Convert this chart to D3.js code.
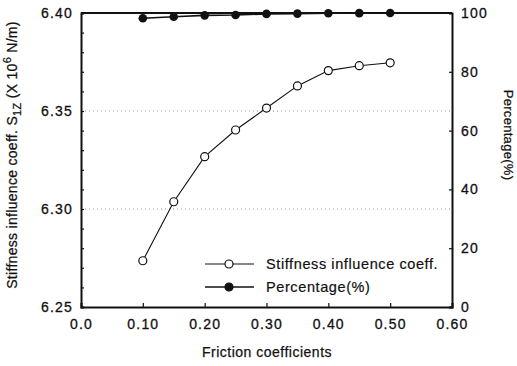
<!DOCTYPE html>
<html>
<head>
<meta charset="utf-8">
<script src="https://cdn.jsdelivr.net/npm/d3@7.9.0/dist/d3.min.js"></script>
<style>
  body { margin: 0; background: #fff; }
  svg text { font-family: "Liberation Sans", Arial, sans-serif; fill: #111; }
</style>
</head>
<body>
<svg id="chart" width="517" height="366"></svg>
<script>
// data
const friction = [0.10, 0.15, 0.20, 0.25, 0.30, 0.35, 0.40, 0.45, 0.50];
const stiffness = [6.2736, 6.3037, 6.3267, 6.3403, 6.3515, 6.3628, 6.3706, 6.3731, 6.3746];
const percentage = [98.2, 98.7, 99.2, 99.3, 99.7, 99.8, 99.9, 99.95, 100];
const xTicks = [0.0, 0.1, 0.2, 0.3, 0.4, 0.5, 0.6];
const yTicks = [6.25, 6.30, 6.35, 6.40];
const y2Ticks = [0, 20, 40, 60, 80, 100];
const gridValues = [6.30, 6.35];
const legendLabels = ['Stiffness influence coeff.', 'Percentage(%)'];

const svg = d3.select('#chart');
const plotL = 81, plotR = 452, plotT = 13, plotB = 307;

let x = d3.scaleLinear().domain([0, 0.6]).range([plotL, plotR]);
let y = d3.scaleLinear().domain([6.25, 6.40]).range([plotB, plotT]);
let y2 = d3.scaleLinear().domain([0, 100]).range([plotB, plotT]);

// dotted gridlines
svg.selectAll('line.grid')
  .data(gridValues)
  .join('line')
  .attr('class', 'grid')
  .attr('x1', plotL).attr('x2', plotR)
  .attr('y1', d => y(d)).attr('y2', d => y(d))
  .attr('stroke', '#777')
  .attr('stroke-width', 0.8)
  .attr('stroke-dasharray', '1,3');

// axes
let xAxis = svg.append('g')
  .attr('transform', `translate(0,${plotB})`)
  .call(d3.axisBottom(x).tickValues(xTicks).tickFormat((d, i) => i === 0 ? '0.0' : d3.format('.2f')(d)).tickSize(-4).tickPadding(12));
let yAxis = svg.append('g')
  .attr('transform', `translate(${plotL},0)`)
  .call(d3.axisLeft(y).tickValues(d3.range(6.25, 6.4001, 0.01)).tickFormat(d => {
    let r = Math.round(d * 100);
    return r % 5 === 0 ? d3.format('.2f')(d) : '';
  }).tickSize(-3).tickPadding(8));
let y2Axis = svg.append('g')
  .attr('transform', `translate(${plotR},0)`)
  .call(d3.axisRight(y2).tickValues(y2Ticks).tickSize(-3).tickPadding(9));

// top border
svg.append('line')
  .attr('x1', plotL).attr('x2', plotR)
  .attr('y1', plotT).attr('y2', plotT)
  .attr('stroke', '#111').attr('stroke-width', 2);

[xAxis, yAxis, y2Axis].forEach(g => {
  g.select('.domain').attr('stroke', '#111').attr('stroke-width', 2);
  g.selectAll('.tick line').attr('stroke', '#111').attr('stroke-width', 1.2);
  g.selectAll('.tick text')
    .attr('font-size', 14)
    .attr('letter-spacing', 1.2)
    .attr('font-family', '"Liberation Sans", Arial, sans-serif')
    .attr('fill', '#111')
    .attr('stroke', '#111').attr('stroke-width', 0.3);
});

// stiffness series
let stiffLine = d3.line().x((d, i) => x(friction[i])).y(d => y(d));
svg.append('path')
  .attr('d', stiffLine(stiffness))
  .attr('fill', 'none').attr('stroke', '#111').attr('stroke-width', 1.1);
svg.selectAll('circle.stiff')
  .data(stiffness)
  .join('circle')
  .attr('class', 'stiff')
  .attr('cx', (d, i) => x(friction[i]))
  .attr('cy', d => y(d))
  .attr('r', 4)
  .attr('fill', '#fff').attr('stroke', '#111').attr('stroke-width', 1.2);

// percentage series
let pctLine = d3.line().x((d, i) => x(friction[i])).y(d => y2(d));
svg.append('path')
  .attr('d', pctLine(percentage))
  .attr('fill', 'none').attr('stroke', '#111').attr('stroke-width', 1.6);
svg.selectAll('circle.pct')
  .data(percentage)
  .join('circle')
  .attr('class', 'pct')
  .attr('cx', (d, i) => x(friction[i]))
  .attr('cy', d => y2(d))
  .attr('r', 4.3)
  .attr('fill', '#111');

// legend
let legend = svg.append('g');
legendLabels.forEach((label, idx) => {
  let ly = 264 + idx * 23;
  legend.append('line')
    .attr('x1', 205).attr('x2', 254).attr('y1', ly).attr('y2', ly)
    .attr('stroke', '#111').attr('stroke-width', idx === 0 ? 1.1 : 1.6);
  legend.append('circle')
    .attr('cx', 229).attr('cy', ly).attr('r', 4)
    .attr('fill', idx === 0 ? '#fff' : '#111')
    .attr('stroke', '#111').attr('stroke-width', 1.2);
  legend.append('text')
    .attr('x', 266).attr('y', ly).attr('dy', '0.35em')
    .attr('font-size', 14.5)
    .attr('letter-spacing', 0.6)
    .attr('stroke', '#111').attr('stroke-width', 0.2)
    .text(label);
});

// axis titles
svg.append('text')
  .attr('x', 267).attr('y', 357)
  .attr('text-anchor', 'middle')
  .attr('font-size', 14)
  .attr('letter-spacing', 0.5)
  .attr('stroke', '#111').attr('stroke-width', 0.25)
  .text('Friction coefficients');

let yTitle = svg.append('text')
  .attr('transform', 'translate(17,155) rotate(-90)')
  .attr('text-anchor', 'middle')
  .attr('font-size', 14)
  .attr('letter-spacing', 0.3)
  .attr('stroke', '#111').attr('stroke-width', 0.25);
yTitle.append('tspan').text('Stiffness influence coeff.  S');
yTitle.append('tspan').attr('dy', 4).attr('font-size', 11).text('1Z');
yTitle.append('tspan').attr('dy', -4).text(' (X 10');
yTitle.append('tspan').attr('dy', -6).attr('font-size', 11).text('6');
yTitle.append('tspan').attr('dy', 6).text(' N/m)');

svg.append('text')
  .attr('transform', 'translate(504,135) rotate(90)')
  .attr('text-anchor', 'middle')
  .attr('font-size', 13)
  .attr('letter-spacing', 0.3)
  .attr('stroke', '#111').attr('stroke-width', 0.25)
  .text('Percentage(%)');
</script>
</body>
</html>
